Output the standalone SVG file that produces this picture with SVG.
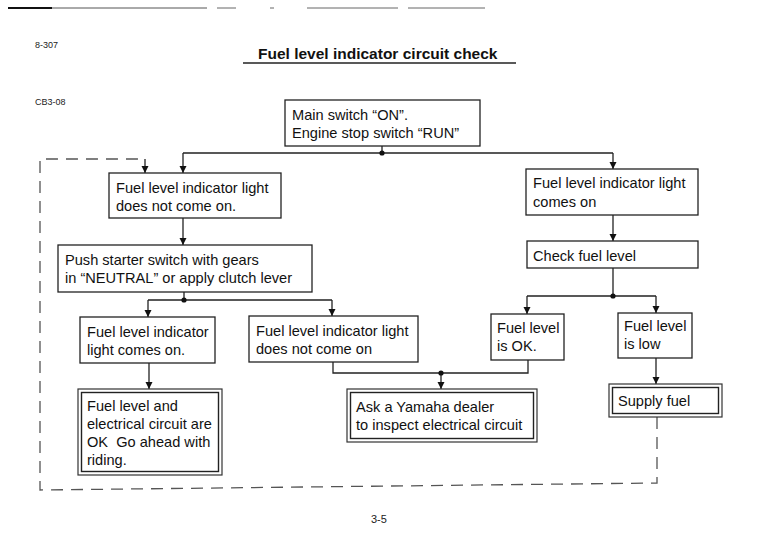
<svg xmlns="http://www.w3.org/2000/svg" width="770" height="554" viewBox="0 0 770 554">
<style>
  .t { font-family: "Liberation Sans", Arial, sans-serif; font-size: 14.6px; fill: #111; }
  .s { font-family: "Liberation Sans", Arial, sans-serif; font-size: 9px; fill: #222; }
  .title { font-family: "Liberation Sans", Arial, sans-serif; font-size: 15.5px; font-weight: bold; fill: #111; }
  .box { fill: #fff; stroke: #222; stroke-width: 1.3; }
  .outer { fill: #fff; stroke: #333; stroke-width: 1.2; }
  .inner { fill: none; stroke: #222; stroke-width: 1.4; }
  .ln { fill: none; stroke: #222; stroke-width: 1.3; }
  .arr { fill: none; stroke: #222; stroke-width: 1.3; marker-end: url(#ah); }
  .dash { fill: none; stroke: #555; stroke-width: 1.3; stroke-dasharray: 12 8; }
  .dot { fill: #111; }
</style>
<defs>
  <marker id="ah" viewBox="0 0 10 10" refX="10" refY="5" markerWidth="7" markerHeight="9" markerUnits="userSpaceOnUse" orient="auto">
    <path d="M0,0 L10,5 L0,10 Z" fill="#111"/>
  </marker>
</defs>
<rect width="770" height="554" fill="#fff"/>

<!-- header decorations -->
<g id="header">
  <path d="M8,8 H52" stroke="#111" stroke-width="2"/>
  <path d="M52,8 H207" stroke="#555" stroke-width="1"/>
  <path d="M217,8 H236 M270,8 H274 M307,8 H398 M408,8 H485" stroke="#666" stroke-width="1"/>
  <text class="s" x="35" y="48">8-307</text>
  <text class="title" x="258" y="59">Fuel level indicator circuit check</text>
  <path d="M243,63 H516" stroke="#222" stroke-width="1.3"/>
  <text class="s" x="35" y="105">CB3-08</text>
  <text class="s" x="371" y="523" style="font-size:11px">3-5</text>
</g>

<!-- connectors -->
<g id="connectors">
  <path class="ln" d="M382,146 V153 M183,153 H613"/>
  <path class="arr" d="M183,153 V173"/>
  <path class="arr" d="M613,153 V169"/>
  <path class="dash" d="M657,417 V483 L40,490 V159 H145"/>
  <path class="arr" d="M145,159 V173"/>
  <path class="arr" d="M183,218 V245"/>
  <path class="ln" d="M184,292 V300 M148,300 H332"/>
  <path class="arr" d="M148,300 V317"/>
  <path class="arr" d="M332,300 V316"/>
  <path class="arr" d="M149,363 V389"/>
  <path class="ln" d="M333,362 V373 H528 V360"/>
  <path class="arr" d="M441,373 V389"/>
  <path class="arr" d="M613,215 V241"/>
  <path class="ln" d="M613,268 V296 M527,296 H656"/>
  <path class="arr" d="M527,296 V314"/>
  <path class="arr" d="M656,296 V313"/>
  <path class="arr" d="M656,358 V384"/>
  <circle class="dot" cx="382" cy="153" r="2.6"/>
  <circle class="dot" cx="184" cy="300" r="2.6"/>
  <circle class="dot" cx="441" cy="373" r="2.6"/>
  <circle class="dot" cx="613" cy="296" r="2.6"/>
</g>

<g id="main">
  <rect class="box" x="285" y="100" width="195" height="46"/>
  <text class="t" x="292" y="120">Main switch “ON”.</text>
  <text class="t" x="292" y="138">Engine stop switch “RUN”</text>
</g>

<g id="notcome1">
  <rect class="box" x="109" y="173" width="172" height="45"/>
  <text class="t" x="116" y="193">Fuel level indicator light</text>
  <text class="t" x="116" y="211">does not come on.</text>
</g>

<g id="comeson">
  <rect class="box" x="526" y="169" width="172" height="46"/>
  <text class="t" x="533" y="188">Fuel level indicator light</text>
  <text class="t" x="533" y="207">comes on</text>
</g>

<g id="checkfuel">
  <rect class="box" x="527" y="241" width="171" height="27"/>
  <text class="t" x="533" y="261">Check fuel level</text>
</g>

<g id="push">
  <rect class="box" x="58" y="245" width="254" height="47"/>
  <text class="t" x="65" y="265">Push starter switch with gears</text>
  <text class="t" x="65" y="283">in “NEUTRAL” or apply clutch lever</text>
</g>

<g id="lightcomes">
  <rect class="box" x="80" y="317" width="135" height="46"/>
  <text class="t" x="87" y="337">Fuel level indicator</text>
  <text class="t" x="87" y="355">light comes on.</text>
</g>

<g id="notcome2">
  <rect class="box" x="249" y="316" width="169" height="46"/>
  <text class="t" x="256" y="336">Fuel level indicator light</text>
  <text class="t" x="256" y="354">does not come on</text>
</g>

<g id="fuelok">
  <rect class="box" x="491" y="314" width="73" height="46"/>
  <text class="t" x="497" y="333">Fuel level</text>
  <text class="t" x="497" y="351">is OK.</text>
</g>

<g id="fuellow">
  <rect class="box" x="618" y="313" width="74" height="45"/>
  <text class="t" x="624" y="331">Fuel level</text>
  <text class="t" x="624" y="349">is low</text>
</g>

<g id="goahead">
  <rect class="outer" x="78" y="389" width="144" height="86"/>
  <rect class="inner" x="81.5" y="392.5" width="137" height="79"/>
  <text class="t" x="87" y="411">Fuel level and</text>
  <text class="t" x="87" y="429">electrical circuit are</text>
  <text class="t" x="87" y="447">OK&#160; Go ahead with</text>
  <text class="t" x="87" y="465">riding.</text>
</g>

<g id="dealer">
  <rect class="outer" x="347" y="389" width="190" height="53"/>
  <rect class="inner" x="350.5" y="392.5" width="183" height="46"/>
  <text class="t" x="356" y="412">Ask a Yamaha dealer</text>
  <text class="t" x="356" y="430">to inspect electrical circuit</text>
</g>

<g id="supply">
  <rect class="outer" x="609" y="384" width="113" height="33"/>
  <rect class="inner" x="612.5" y="387.5" width="106" height="26"/>
  <text class="t" x="618" y="406">Supply fuel</text>
</g>
</svg>
